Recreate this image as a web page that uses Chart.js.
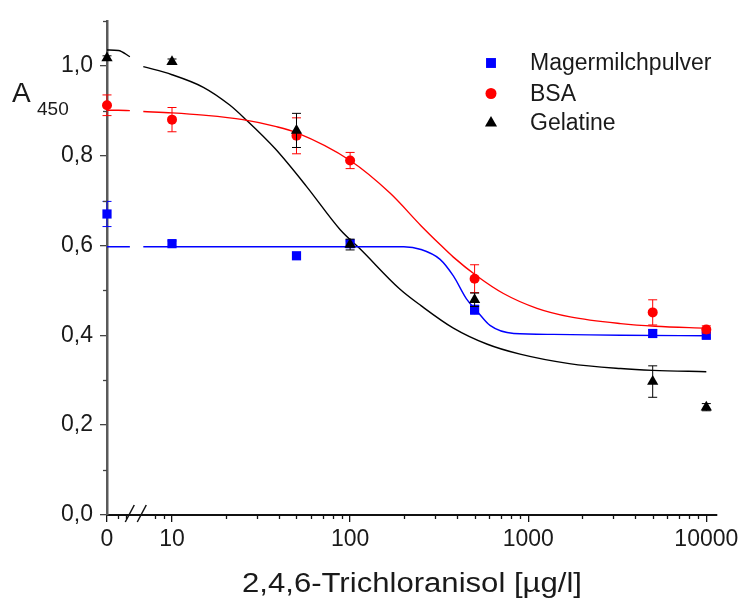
<!DOCTYPE html>
<html>
<head>
<meta charset="utf-8">
<script src="https://cdn.jsdelivr.net/npm/chart.js@4.4.1/dist/chart.umd.min.js"></script>
<style>
  html, body { margin: 0; padding: 0; background: #fff; }
  #wrap { width: 745px; height: 601px; }
</style>
</head>
<body>
<div id="wrap"><canvas id="c" width="745" height="601"></canvas></div>
<script>
// Concentrations of 2,4,6-trichloroanisole (µg/l); 0 is the blank, shown left of the axis break
const CONC = [0, 10, 50, 100, 500, 5000, 10000];

// Measured absorbance at 450 nm per blocking reagent, with error bars
const MAGER     = [0.670, 0.604, 0.577, 0.604, 0.457, 0.404, 0.400];
const MAGER_ERR = [0.028, 0.006, 0.004, 0.006, 0.010, 0.008, 0.006];
const BSA       = [0.912, 0.880, 0.844, 0.789, 0.526, 0.451, 0.413];
const BSA_ERR   = [0.023, 0.027, 0.040, 0.018, 0.031, 0.028, 0.008];
const GEL       = [1.017, 1.009, 0.856, 0.602, 0.479, 0.297, 0.240];
const GEL_ERR   = [0.005, 0.006, 0.038, 0.012, 0.015, 0.035, 0.008];

// Sigmoidal fit curves, sampled along the concentration axis
const FIT_MAGER_X = [0, 5, 5.8, 6.9, 10, 100, 200, 250, 320, 380, 450, 520, 610, 830, 1380, 3300, 10000];
const FIT_MAGER_Y = [0.597, 0.597, 0.597, 0.597, 0.597, 0.597, 0.597, 0.591, 0.569, 0.532, 0.481, 0.452, 0.422, 0.404, 0.402, 0.400, 0.399];
const FIT_BSA_X = [0, 5, 5.8, 6.9, 10, 15, 25, 38, 50, 100, 168, 250, 320, 380, 515, 726, 1120, 1720, 3300, 5160, 10000];
const FIT_BSA_Y = [0.901, 0.901, 0.900, 0.898, 0.895, 0.890, 0.880, 0.865, 0.851, 0.789, 0.716, 0.644, 0.602, 0.574, 0.532, 0.493, 0.460, 0.441, 0.426, 0.420, 0.416];
const FIT_GEL_X = [0, 5, 5.8, 6.9, 10, 15, 21, 26, 38, 57, 88, 114, 190, 250, 380, 590, 900, 1700, 3300, 5000, 10000];
const FIT_GEL_Y = [1.035, 1.034, 1.020, 0.998, 0.980, 0.952, 0.913, 0.880, 0.815, 0.731, 0.635, 0.592, 0.503, 0.466, 0.416, 0.380, 0.358, 0.337, 0.326, 0.322, 0.319];

// Axis ticks
const X_TICKS = [0, 10, 100, 1000, 10000];
const X_MINOR = [5, 5.5, 8, 9, 20, 30, 40, 50, 60, 70, 80, 90, 200, 300, 400, 500, 600, 700, 800, 900,
                 2000, 3000, 4000, 5000, 6000, 7000, 8000, 9000];
const Y_TICKS = [0, 0.2, 0.4, 0.6, 0.8, 1.0];
const Y_MINOR = [0.1, 0.3, 0.5, 0.7, 0.9, 1.1];

const SERIES_NAMES = ['Magermilchpulver', 'BSA', 'Gelatine'];
const X_TITLE = '2,4,6-Trichloranisol [µg/l]';

// log10 axis; the blank is placed at a fixed spot before the break
const ZERO_POS = 0.635;
const X_END_POS = 4.06;
const BREAK_CONC = 6.3;
const pos = c => (c === 0 ? ZERO_POS : Math.log10(c));

const BLUE = '#0000ff', RED = '#ff0000', BLACK = '#000000';
const FONT = '"Liberation Sans", Arial, sans-serif';
const TEXT = '#1a1a1a';

function points(vals) {
  return CONC.map((c, i) => ({ x: pos(c), y: vals[i] }));
}
function curve(xs, ys) {
  const pts = [];
  for (let i = 0; i < xs.length; i++) {
    if (i > 0 && xs[i - 1] < BREAK_CONC && xs[i] > BREAK_CONC) pts.push({ x: pos(BREAK_CONC), y: null });
    pts.push({ x: pos(xs[i]), y: ys[i] });
  }
  return pts;
}
function fitSet(xs, ys, color) {
  return {
    label: '', data: curve(xs, ys), showLine: true, pointRadius: 0, pointHoverRadius: 0,
    borderColor: color, borderWidth: 1.4, cubicInterpolationMode: 'monotone',
    spanGaps: false, fill: false, order: 10, clip: false
  };
}
function markSet(label, vals, errs, color, style, radius, order) {
  return {
    label, data: points(vals), errors: errs, pointStyle: style, pointRadius: radius,
    pointHoverRadius: radius, backgroundColor: color, borderColor: color, borderWidth: 0,
    order, clip: false
  };
}

const decorations = {
  id: 'decorations',
  beforeDatasetDraw(chart, args) {
    const ds = chart.data.datasets[args.index];
    if (!ds.errors) return;
    const ctx = chart.ctx, y = chart.scales.y;
    ctx.save();
    ctx.strokeStyle = ds.borderColor;
    ctx.lineWidth = 1;
    args.meta.data.forEach((pt, i) => {
      const e = ds.errors[i];
      if (!e) return;
      const v = ds.data[i].y;
      const t = y.getPixelForValue(v + e), b = y.getPixelForValue(v - e);
      ctx.beginPath();
      ctx.moveTo(pt.x, t); ctx.lineTo(pt.x, b);
      ctx.moveTo(pt.x - 4.5, t); ctx.lineTo(pt.x + 4.5, t);
      ctx.moveTo(pt.x - 4.5, b); ctx.lineTo(pt.x + 4.5, b);
      ctx.stroke();
    });
    ctx.restore();
  },
  afterDraw(chart) {
    const ctx = chart.ctx, xs = chart.scales.x, ys = chart.scales.y, area = chart.chartArea;
    ctx.save();
    // minor ticks
    ctx.lineWidth = 1.3;
    ctx.strokeStyle = '#444';
    Y_MINOR.forEach(v => {
      const py = Math.round(ys.getPixelForValue(v)) + 0.5;
      ctx.beginPath(); ctx.moveTo(area.left - 4, py); ctx.lineTo(area.left, py); ctx.stroke();
    });
    ctx.strokeStyle = '#111';
    X_MINOR.forEach(c => {
      const px = Math.round(xs.getPixelForValue(pos(c))) + 0.5;
      ctx.beginPath(); ctx.moveTo(px, area.bottom); ctx.lineTo(px, area.bottom + 4); ctx.stroke();
    });
    // axis break marks
    const bx = xs.getPixelForValue(pos(BREAK_CONC));
    ctx.lineWidth = 1.5;
    ctx.strokeStyle = '#111';
    [-6, 6].forEach(o => {
      ctx.beginPath();
      ctx.moveTo(bx + o - 5, area.bottom + 7);
      ctx.lineTo(bx + o + 4, area.bottom - 10);
      ctx.stroke();
    });
    // y axis title: A with subscript 450
    ctx.fillStyle = TEXT;
    ctx.textBaseline = 'alphabetic';
    ctx.textAlign = 'left';
    ctx.font = '28px ' + FONT;
    ctx.fillText('A', 12, 102);
    ctx.font = '19px ' + FONT;
    ctx.fillText('450', 37, 115);
    // x axis title
    ctx.font = '27px ' + FONT;
    const w = ctx.measureText(X_TITLE).width;
    ctx.translate(412, 592);
    ctx.scale(340 / w, 1);
    ctx.fillText(X_TITLE, -w / 2, 0);
    ctx.restore();
    // legend
    ctx.save();
    const marks = chart.data.datasets.filter(d => d.errors);
    const rows = [63, 93.5, 123];
    marks.forEach((d, i) => {
      ctx.fillStyle = d.backgroundColor;
      ctx.strokeStyle = d.borderColor;
      Chart.helpers.drawPoint(ctx, { pointStyle: d.pointStyle, radius: d.pointRadius + 0.5, rotation: 0, borderWidth: 0 }, 491, rows[i]);
      ctx.fillStyle = TEXT;
      ctx.font = '23px ' + FONT;
      ctx.textBaseline = 'middle';
      ctx.textAlign = 'left';
      ctx.fillText(d.label, 530, rows[i] + 1);
    });
    ctx.restore();
  }
};

new Chart(document.getElementById('c'), {
  type: 'scatter',
  data: {
    datasets: [
      fitSet(FIT_MAGER_X, FIT_MAGER_Y, BLUE),
      fitSet(FIT_BSA_X, FIT_BSA_Y, RED),
      fitSet(FIT_GEL_X, FIT_GEL_Y, BLACK),
      markSet(SERIES_NAMES[0], MAGER, MAGER_ERR, BLUE, 'rect', 6.5, 3),
      markSet(SERIES_NAMES[1], BSA, BSA_ERR, RED, 'circle', 5, 2),
      markSet(SERIES_NAMES[2], GEL, GEL_ERR, BLACK, 'triangle', 6.5, 1)
    ]
  },
  options: {
    responsive: false,
    animation: false,
    events: [],
    layout: { padding: { top: 16, right: 28, left: 0, bottom: 0 } },
    plugins: { legend: { display: false }, tooltip: { enabled: false } },
    scales: {
      x: {
        type: 'linear', min: ZERO_POS, max: X_END_POS, z: 1,
        afterBuildTicks: s => { s.ticks = X_TICKS.map(c => ({ value: pos(c) })); },
        afterFit: s => { s.height = 86; },
        ticks: {
          callback: (v, i) => String(X_TICKS[i]),
          font: { family: FONT, size: 23 }, color: TEXT, padding: 4,
          maxRotation: 0, autoSkip: false
        },
        grid: { drawOnChartArea: false, drawTicks: true, tickLength: 7, color: '#111', lineWidth: 1.3 },
        border: { display: true, color: '#111', width: 2 }
      },
      y: {
        type: 'linear', min: 0, max: 1.1, z: 1,
        afterBuildTicks: s => { s.ticks = Y_TICKS.map(v => ({ value: v })); },
        afterFit: s => { s.width = 107; },
        ticks: {
          callback: v => v.toFixed(1).replace('.', ','),
          font: { family: FONT, size: 23 }, color: TEXT, padding: 7
        },
        grid: { drawOnChartArea: false, drawTicks: true, tickLength: 7, color: '#444', lineWidth: 1.3 },
        border: { display: true, color: '#5a5a5a', width: 2.5 }
      }
    }
  },
  plugins: [decorations]
});
</script>
</body>
</html>
